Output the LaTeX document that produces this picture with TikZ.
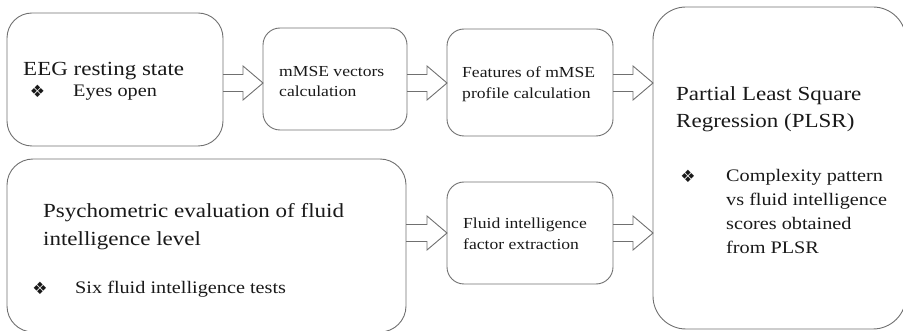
\documentclass[tikz,border=0pt]{standalone}
\usepackage{fontspec}
\setmainfont{Liberation Serif}[FakeStretch=1.15]
\newfontfamily\symfont{DejaVu Sans}
\usetikzlibrary{calc}

\definecolor{linegray}{RGB}{112,112,112}
\definecolor{inkcol}{RGB}{25,25,25}

\tikzset{
  box/.style={draw=linegray, line width=0.9pt, rounded corners=#1, inner sep=0pt, outer sep=0pt},
  bigtxt/.style={font=\fontsize{20}{24}\selectfont, text=inkcol, anchor=base west, inner sep=0pt},
  midtxt/.style={font=\fontsize{17.6}{22}\selectfont, text=inkcol, anchor=base west, inner sep=0pt},
  smalltxt/.style={font=\fontsize{15.3}{19}\selectfont, text=inkcol, anchor=base west, inner sep=0pt},
  bulletmark/.style={font=\symfont\fontsize{17}{19}\selectfont, text=inkcol, inner sep=0pt},
  arrowline/.style={draw=linegray, line width=0.9pt, line join=miter},
}

% hollow block arrow from the east side of #1 to the west side of #2 at the height of #3
\newcommand\hollowarrow[3]{%
  \draw[arrowline] let \p1=(#1.east |- #3), \p2=(#2.west |- #3) in
    (\x1,\y1+8.5pt) -- (\x2-20pt,\y1+8.5pt) -- (\x2-20pt,\y1+17pt) -- (\x2,\y1)
    -- (\x2-20pt,\y1-17pt) -- (\x2-20pt,\y1-8.5pt) -- (\x1,\y1-8.5pt);}

\begin{document}
\begin{tikzpicture}[x=1pt,y=-1pt]
  \useasboundingbox (0,0) rectangle (903,331);

  % boxes
  \node[box=25, minimum width=216pt, minimum height=133pt] (eeg)  at (115,79.5) {};
  \node[box=17, minimum width=144pt, minimum height=102pt] (mmse) at (335,79) {};
  \node[box=17, minimum width=166pt, minimum height=107pt] (feat) at (530,82.5) {};
  \node[box=33, minimum width=253pt, minimum height=322pt] (plsr) at (779.5,168) {};
  \node[box=26, minimum width=399pt, minimum height=173pt] (psy)  at (206.5,245.5) {};
  \node[box=17, minimum width=166pt, minimum height=102pt] (fluid) at (530,233) {};

  % texts
  \node[bigtxt] (eegT) at (23,76) {EEG resting state};
  \node[bulletmark] (eegB) at (37.5,91) {❖};
  \node[midtxt] (eegS) at (73,97) {Eyes open};

  \node[smalltxt] (mmseT1) at (279,77) {mMSE vectors};
  \node[smalltxt] (mmseT2) at (279,97) {calculation};

  \node[smalltxt] (featT1) at (462,78) {Features of mMSE};
  \node[smalltxt] (featT2) at (462,99) {profile calculation};

  \node[smalltxt] (fluidT1) at (463,229) {Fluid intelligence};
  \node[smalltxt] (fluidT2) at (463,250) {factor extraction};

  \node[bigtxt] (plsrT1) at (676,101) {Partial Least Square};
  \node[bigtxt] (plsrT2) at (676,128) {Regression (PLSR)};
  \node[bulletmark] (plsrB) at (688,176) {❖};
  \node[midtxt] (plsrS1) at (726,182) {Complexity pattern};
  \node[midtxt] (plsrS2) at (726,206) {vs fluid intelligence};
  \node[midtxt] (plsrS3) at (726,230) {scores obtained};
  \node[midtxt] (plsrS4) at (726,254) {from PLSR};

  \node[bigtxt] (psyT1) at (43,218) {Psychometric evaluation of fluid};
  \node[bigtxt] (psyT2) at (43,246) {intelligence level};
  \node[bulletmark] (psyB) at (40,288) {❖};
  \node[midtxt] (psyS) at (75,294) {Six fluid intelligence tests};

  % arrow levels
  \coordinate (rowA) at (0,83);
  \coordinate (rowB) at (0,233);

  % connectors
  \hollowarrow{eeg}{mmse}{rowA}
  \hollowarrow{mmse}{feat}{rowA}
  \hollowarrow{feat}{plsr}{rowA}
  \hollowarrow{psy}{fluid}{rowB}
  \hollowarrow{fluid}{plsr}{rowB}
\end{tikzpicture}
\end{document}
